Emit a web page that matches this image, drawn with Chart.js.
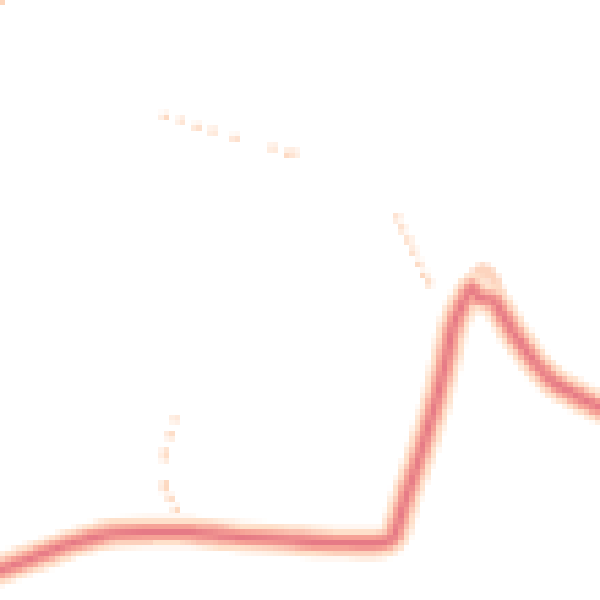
<!DOCTYPE html>
<html>
<head>
<meta charset="utf-8">
<script src="https://cdn.jsdelivr.net/npm/chart.js@4/dist/chart.umd.min.js"></script>
<style>
  html, body { margin: 0; padding: 0; background: #fff; }
  #density {
    display: block;
    image-rendering: pixelated;
  }
</style>
</head>
<body>
<canvas id="density" width="110" height="110" style="width:600px;height:600px"></canvas>
<script>
// main trajectory (x, height)
const pathX = [0, 31, 61, 92, 115, 150, 191, 230, 290, 344, 385, 394, 406, 421, 436, 446, 453, 463, 472, 478, 493, 500, 510, 517, 536, 555, 574, 600];
const pathY = [30, 41, 53, 62, 67, 68, 68, 64, 60, 57, 58, 64, 103, 148, 198, 240, 273, 297, 312, 303, 300, 290, 273, 262, 236, 217, 206, 192];

// faint loop over the peak
const loopX = [466, 474, 482, 492, 500];
const loopY = [305, 322, 330, 324, 302];

// sparse stray cells
const strayX = [165, 181, 197, 213, 235, 273, 287, 294, 397, 402, 408, 413, 419, 424, 429, 175, 170, 165, 165, 165, 165, 170, 176, 2];
const strayY = [484, 479, 473, 468, 462, 452, 446, 446, 382, 371, 360, 349, 336, 325, 317, 181, 165, 148, 142, 117, 111, 101, 91, 598];

const toPoints = (xs, ys) => xs.map((x, i) => ({ x: x, y: ys[i] }));

const mainPts = toPoints(pathX, pathY);
const loopPts = toPoints(loopX, loopY);
const strayPts = toPoints(strayX, strayY);

const bandLine = (data, color, width) => ({
  type: 'line',
  data: data,
  borderColor: color,
  borderWidth: width,
  borderCapStyle: 'round',
  borderJoinStyle: 'round',
  tension: 0.25,
  pointRadius: 0,
  fill: false,
  clip: false
});

// Chart.js paints dataset 0 on top, so the core comes first
new Chart(document.getElementById('density'), {
  type: 'scatter',
  data: {
    datasets: [
      bandLine(mainPts, 'rgb(230, 122, 134)', 1.1),
      bandLine(mainPts, 'rgb(246, 162, 150)', 3.2),
      bandLine(mainPts, 'rgb(254, 224, 202)', 5.6),
      bandLine(loopPts, 'rgb(253, 212, 190)', 2.4),
      {
        data: strayPts,
        pointStyle: 'rect',
        pointRadius: 0.9,
        backgroundColor: 'rgb(253, 214, 188)',
        borderWidth: 0,
        clip: false
      }
    ]
  },
  options: {
    responsive: false,
    devicePixelRatio: 1,
    animation: false,
    events: [],
    layout: { padding: 0, autoPadding: false },
    plugins: {
      legend: { display: false },
      tooltip: { enabled: false }
    },
    scales: {
      x: { type: 'linear', min: 0, max: 600, display: false },
      y: { type: 'linear', min: 0, max: 600, display: false }
    }
  }
});
</script>
</body>
</html>
